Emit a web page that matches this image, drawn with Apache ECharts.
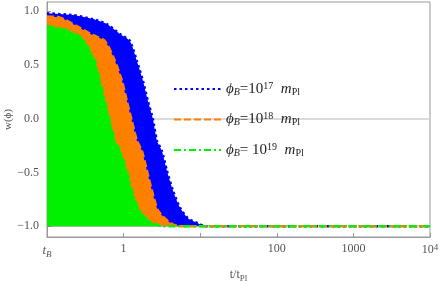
<!DOCTYPE html>
<html><head><meta charset="utf-8">
<script src="https://cdn.jsdelivr.net/npm/echarts@6/dist/echarts.min.js"></script>
<style>html,body{margin:0;padding:0;background:#fff}#c{width:442px;height:283px}</style>
</head><body><div id="c"></div>
<script>
// Upper envelopes of w(phi) vs t/t_Pl for each phi_B (region below filled down to -1)
const blueT = [0.1, 0.218, 0.398, 0.605, 0.895, 1.21, 1.49, 1.79, 2.07, 2.41, 2.72, 3.15, 3.67, 4.40, 5.42, 6.89, 9.31, 11.5, 100, 1000, 10000];
const blueW = [0.98, 0.963, 0.926, 0.88, 0.787, 0.722, 0.537, 0.352, 0.167, 0.0, -0.204, -0.296, -0.481, -0.667, -0.824, -0.926, -0.972, -1.0, -1.0, -1.0, -1.0];
const orangeT = [0.1, 0.148, 0.246, 0.364, 0.57, 0.771, 0.951, 1.10, 1.28, 1.49, 1.73, 2.01, 2.34, 2.80, 3.67, 4.67, 6.0, 100, 1000, 10000];
const orangeW = [0.95, 0.94, 0.86, 0.79, 0.722, 0.537, 0.352, 0.167, -0.019, -0.204, -0.296, -0.481, -0.667, -0.852, -0.944, -0.991, -1.0, -1.0, -1.0, -1.0];
const greenT = [0.1, 0.148, 0.218, 0.294, 0.423, 0.491, 0.57, 0.662, 0.77, 0.895, 1.10, 1.28, 1.54, 1.90, 2.41, 3.15, 100, 1000, 10000];
const greenW = [0.86, 0.84, 0.8, 0.74, 0.537, 0.352, 0.167, -0.019, -0.204, -0.296, -0.481, -0.667, -0.824, -0.917, -0.972, -1.0, -1.0, -1.0, -1.0];
const seriesNames = ['b17', 'b18', 'b19'];
const legendExp = ['17', '18', '19'];
const yMajor = [-1, -0.5, 0, 0.5, 1];
const yMinor = [-0.9,-0.8,-0.7,-0.6,-0.4,-0.3,-0.2,-0.1,0.1,0.2,0.3,0.4,0.6,0.7,0.8,0.9];
const xLabelMap = {'-1': '{it|t}{sub|B}', '0': '1', '1': '', '2': '100', '3': '1000', '4': '10{sup|4}'};

const pairs = (t, w) => t.map((v, i) => [v, w[i]]);
const serif = 'Liberation Serif';
const gray = '#555';
const axisCol = '#999';
const richBase = {
  it: {fontFamily: serif, fontStyle: 'italic', fontSize: 15, color: '#222'},
  n: {fontFamily: serif, fontSize: 15, color: '#222'},
  sub: {fontFamily: serif, fontStyle: 'italic', fontSize: 10, color: '#222', verticalAlign: 'bottom', padding: [6, 0, 0, 0]},
  subr: {fontFamily: serif, fontSize: 10, color: '#222', verticalAlign: 'bottom', padding: [6, 0, 0, 0]},
  sup: {fontFamily: serif, fontSize: 10, color: '#222', verticalAlign: 'top', padding: [0, 0, 6, 0]}
};
const colors = ['#0000ff', '#ff8000', '#00f000'];
const dashes = [[2.5, 3], [7, 3], [7, 3, 2, 3]];
const allData = [pairs(blueT, blueW), pairs(orangeT, orangeW), pairs(greenT, greenW)];

const chart = echarts.init(document.getElementById('c'), null, {renderer: 'canvas'});
chart.setOption({
  animation: false,
  grid: {left: 47, right: 12, top: 2, bottom: 46, show: true, borderColor: axisCol, borderWidth: 1,
    outerBoundsMode: 'none', containLabel: false},
  legend: {
    orient: 'vertical', left: 168, top: 76, itemWidth: 47, itemHeight: 14, itemGap: 14.5,
    data: seriesNames,
    itemStyle: {opacity: 0, borderWidth: 0},
    formatter: function (name) {
      const i = seriesNames.indexOf(name);
      const sp = i === 2 ? ' ' : '';
      return '{it|ϕ}{sub|B}{n|=' + sp + '10}{sup|' + legendExp[i] + '}{n|  }{it|m}{subr|Pl}';
    },
    textStyle: {rich: richBase, fontFamily: serif, fontSize: 15}
  },
  xAxis: [{
    type: 'log', logBase: 10, min: 0.1, max: 10000,
    axisLine: {onZero: false, lineStyle: {color: axisCol}},
    axisTick: {inside: true, length: 4, lineStyle: {color: axisCol}},
    splitLine: {show: false},
    axisLabel: {
      fontFamily: serif, fontSize: 12, color: gray, margin: 6,
      formatter: function (v) { return xLabelMap[String(Math.round(Math.log10(v)))] || ''; },
      rich: {
        it: {fontFamily: serif, fontStyle: 'italic', fontSize: 13, color: gray},
        sub: {fontFamily: serif, fontStyle: 'italic', fontSize: 9, color: gray, verticalAlign: 'bottom', padding: [7, 0, 0, 0]},
        sup: {fontFamily: serif, fontSize: 9, color: gray, verticalAlign: 'top', padding: [0, 0, 5, 0]}
      }
    },
    name: 't/t{sub|Pl}', nameLocation: 'middle', nameGap: 30, nameMoveOverlap: false,
    nameTextStyle: {fontFamily: serif, fontSize: 12, color: gray,
      rich: {sub: {fontFamily: serif, fontSize: 9, color: gray, verticalAlign: 'bottom', padding: [7, 0, 0, 0]}}}
  }, {
    type: 'log', logBase: 10, min: 0.1, max: 10000, position: 'bottom',
    axisLine: {onZero: true, lineStyle: {color: '#d0d0d0', width: 1.5}},
    axisTick: {show: false}, axisLabel: {show: false}, splitLine: {show: false}
  }],
  yAxis: [{
    type: 'value', min: -1.1, max: 1.085,
    axisLine: {show: true, lineStyle: {color: axisCol}},
    axisTick: {inside: true, length: 4, lineStyle: {color: axisCol}, customValues: yMajor},
    splitLine: {show: false},
    axisLabel: {customValues: yMajor, fontFamily: serif, fontSize: 12, color: gray, margin: 8,
      formatter: v => v.toFixed(1).replace('-', '\u2212')},
    name: 'w(ϕ)', nameLocation: 'middle', nameGap: 33, nameRotate: 90, nameMoveOverlap: false,
    nameTextStyle: {fontFamily: serif, fontSize: 11, color: gray}
  }, {
    type: 'value', min: -1.1, max: 1.085, position: 'left',
    axisLine: {show: false},
    axisTick: {show: true, inside: true, length: 2, lineStyle: {color: axisCol}, customValues: yMinor},
    axisLabel: {show: false}, splitLine: {show: false}
  }],
  series: seriesNames.map((nm, i) => ({
    name: nm, type: 'line', xAxisIndex: 0, yAxisIndex: 0,
    data: allData[i], symbol: 'none', smooth: 0.2, z: 2 + i,
    lineStyle: {color: colors[i], width: 2.5, type: dashes[i]},
    itemStyle: {color: colors[i]},
    areaStyle: {color: colors[i], opacity: 1, origin: -1}
  }))
});
</script></body></html>
